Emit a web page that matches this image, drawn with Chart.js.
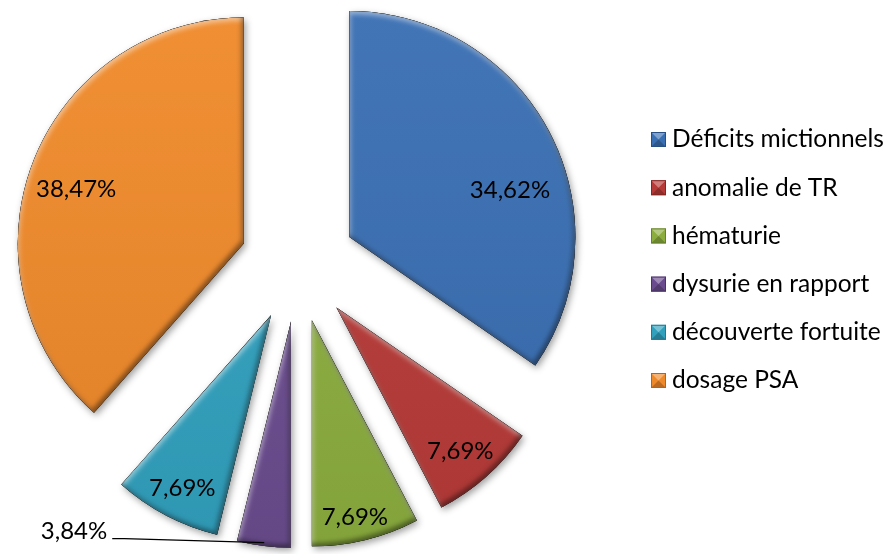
<!DOCTYPE html>
<html lang="fr">
<head>
<meta charset="utf-8">
<title>Circonstances de découverte</title>
<script src="https://cdn.jsdelivr.net/npm/chart.js@4.4.0/dist/chart.umd.min.js"></script>
<style>
  html, body { margin: 0; padding: 0; background: #fff; }
  #caixa { width: 891px; height: 554px; }
</style>
</head>
<body>
<div id="caixa"><canvas id="graficoPizza"></canvas></div>
<script>
const categorias = ['Déficits mictionnels', 'anomalie de TR', 'hématurie', 'dysurie en rapport', 'découverte fortuite', 'dosage PSA'];
const valores = [34.62, 7.69, 7.69, 3.84, 7.69, 38.47];
const cores = ['#3A6FB3', '#B63A37', '#8BAD3E', '#6A4C8E', '#31A0BD', '#EF8A2B'];
const bordas = ['#284F84', '#862624', '#64812A', '#4A3368', '#22788F', '#B5641B'];

// distancia que cada fatia sai do centro
const EXPLODE = 58;

function formatar(v) {
  return v.toFixed(2).replace('.', ',') + '%';
}

function centroFatia(arc) {
  const meio = (arc.startAngle + arc.endAngle) / 2;
  return {
    cx: arc.x + Math.cos(meio) * EXPLODE,
    cy: arc.y + Math.sin(meio) * EXPLODE,
    meio: meio
  };
}

function subCaminho(ctx, arc) {
  const {cx, cy} = centroFatia(arc);
  ctx.moveTo(cx, cy);
  ctx.arc(cx, cy, arc.outerRadius, arc.startAngle, arc.endAngle);
  ctx.closePath();
}

// desenha as fatias separadas, com sombra e chanfro
const fatias3d = {
  id: 'fatias3d',
  beforeDatasetDraw(chart, args) {
    const ctx = chart.ctx;
    const arcs = args.meta.data;

    arcs.forEach((arc) => {
      ctx.save();
      ctx.shadowColor = 'rgba(0,0,0,0.38)';
      ctx.shadowBlur = 7;
      ctx.shadowOffsetX = 2;
      ctx.shadowOffsetY = 3;
      ctx.beginPath();
      subCaminho(ctx, arc);
      ctx.fillStyle = arc.options.backgroundColor;
      ctx.fill();
      ctx.restore();
    });

    arcs.forEach((arc) => {
      const {cx, cy} = centroFatia(arc);
      const R = arc.outerRadius;

      ctx.save();
      ctx.beginPath();
      subCaminho(ctx, arc);
      ctx.clip();

      // leve degrade de cima para baixo
      const g = ctx.createLinearGradient(0, cy - R, 0, cy + R);
      g.addColorStop(0, 'rgba(255,255,255,0.04)');
      g.addColorStop(1, 'rgba(0,0,0,0.06)');
      ctx.fillStyle = g;
      ctx.fillRect(cx - R - 5, cy - R - 5, 2 * R + 10, 2 * R + 10);

      // sombra interna clara (bordas de cima) e escura (bordas de baixo)
      const luzes = [
        {cor: 'rgba(255,255,255,0.5)', dx: 1, dy: 3},
        {cor: 'rgba(0,0,0,0.45)', dx: -2, dy: -3}
      ];
      luzes.forEach((l) => {
        ctx.save();
        ctx.beginPath();
        ctx.rect(cx - 3000, cy - 3000, 6000, 6000);
        subCaminho(ctx, arc);
        ctx.shadowColor = l.cor;
        ctx.shadowBlur = 5;
        ctx.shadowOffsetX = l.dx;
        ctx.shadowOffsetY = l.dy;
        ctx.fillStyle = '#000';
        ctx.fill('evenodd');
        ctx.restore();
      });
      ctx.restore();
    });
    return false;
  },
  afterDatasetsDraw(chart) {
    const ctx = chart.ctx;
    const arcs = chart.getDatasetMeta(0).data;
    // posicao dos rotulos: fracao do raio e desvio de angulo (graus)
    const pos = [
      {f: 0.74, da: 11.5},
      {f: 0.84, da: 0.8},
      {f: 0.89, da: 1.5},
      null,
      {f: 0.86, da: -0.5},
      {f: 0.78, da: -2.7}
    ];
    ctx.save();
    ctx.font = '24px Lato';
    ctx.fillStyle = '#000';
    ctx.textBaseline = 'middle';
    arcs.forEach((arc, i) => {
      const {cx, cy, meio} = centroFatia(arc);
      const R = arc.outerRadius;
      const texto = formatar(valores[i]);
      const p = pos[i];
      if (p) {
        const a = meio + p.da * Math.PI / 180;
        ctx.textAlign = 'center';
        ctx.fillText(texto, cx + Math.cos(a) * R * p.f, cy + Math.sin(a) * R * p.f);
      } else {
        // fatia pequena: rotulo fora com linha de chamada
        const ex = cx + Math.cos(meio) * R * 0.985;
        const ey = cy + Math.sin(meio) * R * 0.985;
        const tx = ex - 157;
        const ty = ey - 11;
        ctx.textAlign = 'right';
        ctx.fillText(texto, tx, ty);
        ctx.beginPath();
        ctx.moveTo(tx + 5, ty + 7);
        ctx.lineTo(tx + 17, ty + 7);
        ctx.lineTo(ex, ey);
        ctx.strokeStyle = '#000';
        ctx.lineWidth = 1.3;
        ctx.stroke();
      }
    });
    ctx.restore();
  }
};

// legenda a direita com caixinhas chanfradas
const legendaChanfro = {
  id: 'legendaChanfro',
  afterDraw(chart) {
    const ctx = chart.ctx;
    const x0 = 651, y0 = 139.5, passo = 48.2, lado = 15;
    ctx.save();
    ctx.font = '24.5px Lato';
    ctx.textBaseline = 'middle';
    ctx.textAlign = 'left';
    categorias.forEach((nome, i) => {
      const yc = y0 + i * passo;
      const bx = x0, by = yc - lado / 2;
      ctx.fillStyle = cores[i];
      ctx.fillRect(bx, by, lado, lado);
      // face de cima clara, de baixo escura
      ctx.fillStyle = 'rgba(255,255,255,0.35)';
      ctx.beginPath();
      ctx.moveTo(bx, by); ctx.lineTo(bx + lado, by); ctx.lineTo(bx + lado / 2, by + lado / 2);
      ctx.closePath(); ctx.fill();
      ctx.fillStyle = 'rgba(0,0,0,0.22)';
      ctx.beginPath();
      ctx.moveTo(bx, by + lado); ctx.lineTo(bx + lado, by + lado); ctx.lineTo(bx + lado / 2, by + lado / 2);
      ctx.closePath(); ctx.fill();
      ctx.strokeStyle = bordas[i];
      ctx.lineWidth = 1;
      ctx.strokeRect(bx + 0.5, by + 0.5, lado - 1, lado - 1);
      ctx.fillStyle = '#000';
      ctx.fillText(nome, 672, yc);
    });
    ctx.restore();
  }
};

const ctx = document.getElementById('graficoPizza');

new Chart(ctx, {
  type: 'pie',
  data: {
    labels: categorias,
    datasets: [{
      data: valores,
      backgroundColor: cores,
      borderColor: bordas,
      borderWidth: 0,
      radius: 226
    }]
  },
  options: {
    responsive: true,
    maintainAspectRatio: false,
    animation: false,
    events: [],
    layout: {
      padding: {top: 20, bottom: 46, left: 0, right: 295}
    },
    plugins: {
      tooltip: {enabled: false},
      legend: {display: false}
    }
  },
  plugins: [fatias3d, legendaChanfro]
});
</script>
</body>
</html>
